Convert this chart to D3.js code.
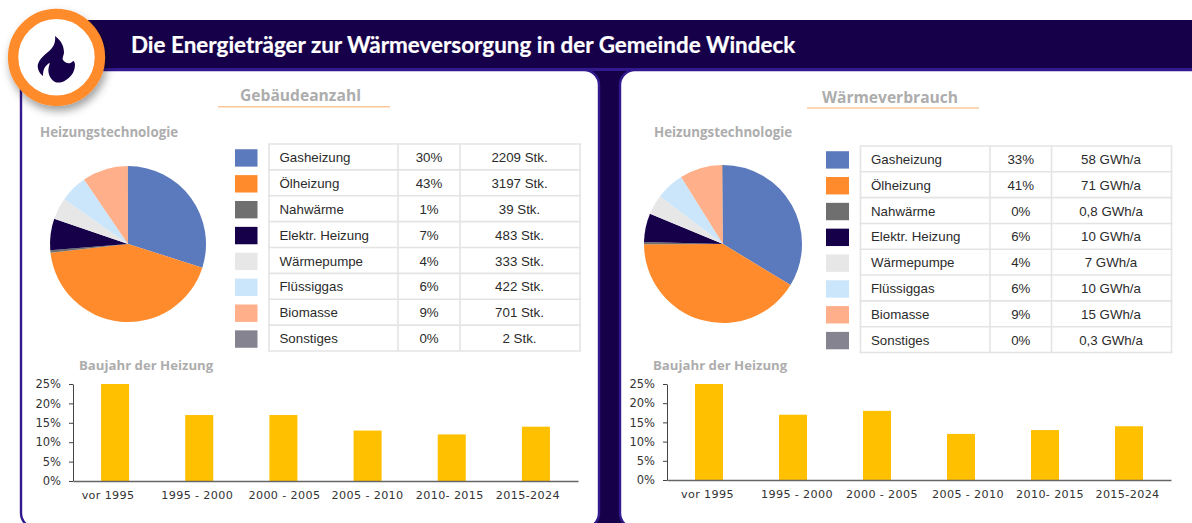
<!DOCTYPE html>
<html><head><meta charset="utf-8">
<script src="https://cdn.jsdelivr.net/npm/d3@7"></script>
<style>
html,body{margin:0;padding:0;background:#fff;overflow:hidden}
svg{display:block}
</style></head><body><svg id="c" width="1192" height="523"></svg>
<script>
const titleText = "Die Energieträger zur Wärmeversorgung in der Gemeinde Windeck";
const categories = ["Gasheizung","Ölheizung","Nahwärme","Elektr. Heizung","Wärmepumpe","Flüssiggas","Biomasse","Sonstiges"];
const colors = ["#5B7ABD","#FF8B2C","#6F6F6F","#17004A","#E7E7E7","#CBE6FA","#FFB08A","#85838F"];
const leftCounts = [2209,3197,39,483,333,422,701,2];
const leftPercent = ["30%","43%","1%","7%","4%","6%","9%","0%"];
const leftValueLabels = ["2209 Stk.","3197 Stk.","39 Stk.","483 Stk.","333 Stk.","422 Stk.","701 Stk.","2 Stk."];
const rightEnergy = [58,71,0.8,10,7,10,15,0.3];
const rightPercent = ["33%","41%","0%","6%","4%","6%","9%","0%"];
const rightValueLabels = ["58 GWh/a","71 GWh/a","0,8 GWh/a","10 GWh/a","7 GWh/a","10 GWh/a","15 GWh/a","0,3 GWh/a"];
const yearLabels = ["vor 1995","1995 - 2000","2000 - 2005","2005 - 2010","2010- 2015","2015-2024"];
const leftYears = [25,17,17,13,12,14];
const rightYears = [25,17,18,12,13,14];
const yTicks = [0,5,10,15,20,25];

const svg = d3.select("#c");
const DARK="#17004A", PURPLE="#321A8E", HEAD="'Open Sans', sans-serif";

const defs = svg.append("defs");
const f = defs.append("filter").attr("id","sh").attr("x","-30%").attr("y","-30%").attr("width","170%").attr("height","170%");
f.append("feDropShadow").attr("dx",2).attr("dy",5).attr("stdDeviation",4).attr("flood-color","#000").attr("flood-opacity",.38);

// frame
svg.append("rect").attr("x",60).attr("y",20).attr("width",1140).attr("height",510).attr("fill",DARK);
svg.append("rect").attr("x",60).attr("y",68).attr("width",1140).attr("height",3).attr("fill",PURPLE);
[[21,578],[620,600]].forEach(([x,w])=>{
  svg.append("rect").attr("x",x).attr("y",70).attr("width",w).attr("height",458)
    .attr("rx",15).attr("fill","#fff").attr("stroke",PURPLE).attr("stroke-width",2.4);
});
svg.append("text").attr("x",131).attr("y",53).attr("fill","#fff").attr("font-family","Lato, sans-serif")
  .attr("font-weight",700).attr("font-size",22.45).attr("stroke","#fff").attr("stroke-width",.2).text(titleText);

// badge
svg.append("circle").attr("cx",56.5).attr("cy",57.3).attr("r",43.4).attr("fill","#fff")
  .attr("stroke","#FF8B2C").attr("stroke-width",10.4).attr("filter","url(#sh)");
svg.append("path").attr("fill",DARK)
  .attr("d","M55 36C62 41 64 47 64 53C63 57 62 59 63 60C66 64 70 64 72 62C74 60 74 61 75 64C75 71 72 76 66 80C62 83 58 83 55 82C50 79 47 73 49 66C50 63 50 62 48 64C44 67 43 71 43 76C39 73 37 68 38 64C39 60 43 56 48 52C53 48 56 43 55 36Z");

function panel(cfg){
  const g = svg.append("g");
  const head=(x,y,s,t,a)=>g.append("text").attr("x",x).attr("y",y).attr("text-anchor",a||"start")
    .attr("font-family",HEAD).attr("font-weight",700).attr("font-size",s).attr("fill","#ADADAD").text(t);
  head(cfg.subX,cfg.subY,cfg.subSize,cfg.sub,"middle");
  g.append("line").attr("x1",cfg.lineX-86).attr("x2",cfg.lineX+86).attr("y1",cfg.lineY).attr("y2",cfg.lineY)
    .attr("stroke","#FDC99B").attr("stroke-width",1.5);
  head(cfg.techX,137,13.3,"Heizungstechnologie");
  head(cfg.yearX,370,13.2,"Baujahr der Heizung");

  // pie
  const pie = d3.pie().sort(null)(cfg.values);
  const arc = d3.arc().innerRadius(0).outerRadius(cfg.r);
  g.append("g").attr("transform",`translate(${cfg.cx},${cfg.cy})`).selectAll("path").data(pie).join("path")
    .attr("d",arc).attr("fill",(d,i)=>colors[i]);

  // table
  const y = d3.scaleBand().domain(categories).range([cfg.tableY0,cfg.tableY1]);
  const [c0,c1,c2,c3]=cfg.cols;
  const t = g.append("g");
  const lc="#E4E4E4";
  categories.forEach((c,i)=>{
    t.append("rect").attr("x",cfg.swX).attr("y",y(c)+y.bandwidth()/2-8.7+cfg.swDy).attr("width",cfg.swW).attr("height",17.4).attr("fill",colors[i]);
  });
  y.domain().concat("end").forEach((c)=>{
    const yy = c==="end"?cfg.tableY1:y(c);
    t.append("line").attr("x1",c0-1).attr("x2",c3+1).attr("y1",yy).attr("y2",yy).attr("stroke",lc).attr("stroke-width",1.6);
  });
  cfg.cols.forEach(x=>t.append("line").attr("x1",x).attr("x2",x).attr("y1",cfg.tableY0).attr("y2",cfg.tableY1).attr("stroke",lc).attr("stroke-width",1.6));
  const cell=(x,yy,txt,a)=>t.append("text").attr("x",x).attr("y",yy).attr("text-anchor",a).attr("dy","0.35em")
    .attr("font-family","'Liberation Sans',Arial,sans-serif").attr("font-size",13.3).attr("fill","#2b2b2b").text(txt);
  categories.forEach((c,i)=>{
    const m=y(c)+y.bandwidth()/2+.5;
    cell(c0+10.5,m,c,"start");
    cell((c1+c2)/2,m,cfg.percent[i],"middle");
    cell((c2+c3)/2-.5,m,cfg.labels[i],"middle");
  });

  // bars
  const bx = d3.scaleBand().domain(yearLabels).range([cfg.axX0,cfg.axX1]).paddingInner(.667).paddingOuter(.3335);
  const by = d3.scaleLinear().domain([0,25]).range([cfg.axY0,384]);
  g.append("g").selectAll("rect").data(cfg.years).join("rect")
    .attr("x",(d,i)=>bx(yearLabels[i])).attr("width",bx.bandwidth())
    .attr("y",d=>by(d)).attr("height",d=>by(0)-by(d)).attr("fill","#FFC000");
  const tf="'DejaVu Sans',Verdana,sans-serif";
  const ya = g.append("g").attr("transform",`translate(${cfg.axX0},0)`)
    .call(d3.axisLeft(by).tickValues(yTicks).tickFormat(d=>d+"%").tickSize(4).tickSizeOuter(0).tickPadding(8));
  ya.selectAll("text").attr("font-family",tf).attr("font-size",11.5).attr("fill","#333");
  ya.selectAll("line,path").attr("stroke","#444");
  const xa = g.append("g").attr("transform",`translate(0,${cfg.axY0})`)
    .call(d3.axisBottom(bx).tickSize(0).tickSizeOuter(0).tickPadding(10));
  xa.selectAll("text").attr("font-family",tf).attr("font-size",11.2).attr("letter-spacing",.35).attr("fill","#333")
    .attr("dx",(d,i)=>cfg.labelShift[i]).attr("dy",cfg.labelDy);
  xa.selectAll("path").attr("stroke","#666").attr("stroke-width",1.3);
}

panel({sub:"Gebäudeanzahl",subX:300.5,subY:101,subSize:15.6,lineX:304,lineY:106.7,techX:40,yearX:79,values:leftCounts,percent:leftPercent,labels:leftValueLabels,
  years:leftYears,cx:128,cy:244,r:78,cols:[269,398,460,580],tableY0:144,tableY1:351,swX:235,swW:22.5,swDy:1,axX0:73,axX1:578,axY0:481,
  labelShift:[-7,-2,1,0,-2,-8],labelDy:"0.75em"});
panel({sub:"Wärmeverbrauch",subX:890,subY:103,subSize:15.6,lineX:893,lineY:108,techX:654,yearX:653,values:rightEnergy,percent:rightPercent,labels:rightValueLabels,
  years:rightYears,cx:723,cy:244,r:79,cols:[860.5,990,1051.5,1171.5],tableY0:146,tableY1:352.5,swX:826,swW:23,swDy:1,axX0:667,axX1:1171,axY0:480,
  labelShift:[-1.5,4,5,7,5,-1.5],labelDy:"0.75em"});
</script></body></html>
